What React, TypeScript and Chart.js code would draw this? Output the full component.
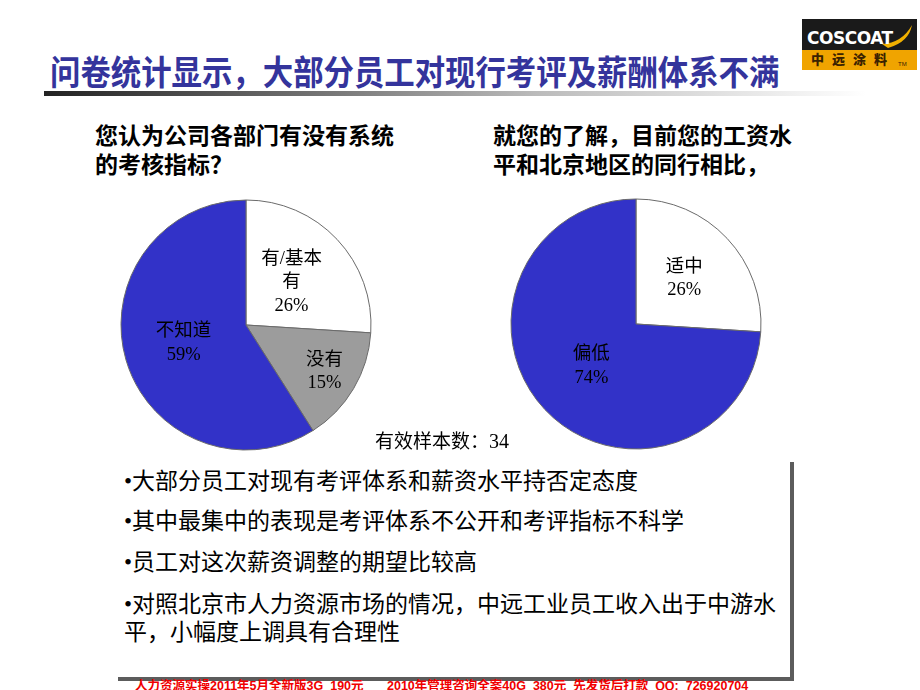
import React, { useEffect, useRef } from "react";
import { Chart, registerables } from "chart.js";

Chart.register(...registerables);

// ---- Data ----
const leftCategories = [["有/基本", "有"], ["没有"], ["不知道"]];
const leftValues = [26, 15, 59];
const rightCategories = [["适中"], ["偏低"]];
const rightValues = [26, 74];
const sampleSize = 34;

const leftQuestion = ["您认为公司各部门有没有系统", "的考核指标？"];
const rightQuestion = ["就您的了解，目前您的工资水", "平和北京地区的同行相比，"];
const titleText = "问卷统计显示，大部分员工对现行考评及薪酬体系不满";
const bulletLines = [
  "•大部分员工对现有考评体系和薪资水平持否定态度",
  "•其中最集中的表现是考评体系不公开和考评指标不科学",
  "•员工对这次薪资调整的期望比较高",
  "•对照北京市人力资源市场的情况，中远工业员工收入出于中游水",
  "平，小幅度上调具有合理性",
];
const footerParts = [
  "人力资源实操2011年5月全新版3G  190元",
  "2010年管理咨询全案40G  380元  先发货后打款  QQ:  726920704",
];

// ---- Styles ----
const BLUE = "#3232C8";
const GRAY = "#9C9C9C";
const WHITE = "#FFFFFF";
const leftColors = [WHITE, GRAY, BLUE];
const rightColors = [WHITE, BLUE];
const leftLabelRadii = [0.5, 0.73, 0.52];
const rightLabelRadii = [0.53, 0.49];
const SERIF = '"Liberation Serif", "Noto Sans CJK SC", serif';
const SANS = '"Noto Sans CJK SC", "Noto Sans", sans-serif';

const sliceLabelPlugin = {
  id: "sliceLabels",
  afterDatasetsDraw(chart: any, _args: any, opts: any) {
    const ctx = chart.ctx;
    const meta = chart.getDatasetMeta(0);
    const ds = chart.data.datasets[0];
    const labels = chart.data.labels;
    meta.data.forEach((arc: any, i: number) => {
      const p = arc.getProps(["x", "y", "startAngle", "endAngle", "outerRadius"], true);
      const mid = (p.startAngle + p.endAngle) / 2;
      const r = p.outerRadius * opts.radii[i];
      const cx = p.x + Math.cos(mid) * r;
      const cy = p.y + Math.sin(mid) * r;
      const lines = [...labels[i], ds.data[i] + "%"];
      ctx.save();
      ctx.font = opts.font;
      ctx.fillStyle = "#000";
      ctx.textAlign = "center";
      ctx.textBaseline = "middle";
      const lh = opts.lineHeight;
      const top = cy - ((lines.length - 1) * lh) / 2;
      lines.forEach((l: string, j: number) => ctx.fillText(l, cx, top + j * lh));
      ctx.restore();
    });
  },
};

function PieChart(props: {
  labels: string[][];
  values: number[];
  colors: string[];
  radii: number[];
  style: React.CSSProperties;
}) {
  const ref = useRef<HTMLCanvasElement | null>(null);
  useEffect(() => {
    if (!ref.current) return;
    const chart = new Chart(ref.current, {
      type: "pie",
      data: {
        labels: props.labels as any,
        datasets: [
          {
            data: props.values,
            backgroundColor: props.colors,
            borderColor: "#6a6a6a",
            borderWidth: 1,
          },
        ],
      },
      options: {
        responsive: false,
        animation: false,
        radius: 125,
        layout: { padding: 0 },
        plugins: {
          legend: { display: false },
          tooltip: { enabled: false },
          sliceLabels: {
            radii: props.radii,
            font: `18.5px ${SERIF}`,
            lineHeight: 23.5,
          },
        } as any,
      } as any,
      plugins: [sliceLabelPlugin],
    });
    return () => chart.destroy();
  }, []);
  return <canvas ref={ref} width={260} height={260} style={{ position: "absolute", ...props.style }} />;
}

function Logo() {
  return (
    <div style={{ position: "absolute", left: 802, top: 19, width: 115, height: 51, overflow: "hidden" }}>
      <div style={{ position: "absolute", left: 0, top: 0, width: 115, height: 31, background: "#1a1a1a" }} />
      <div style={{ position: "absolute", left: 0, top: 31, width: 115, height: 20, background: "#F0A400" }} />
      <svg width={115} height={51} style={{ position: "absolute", left: 0, top: 0 }}>
        <path d="M 80 25 Q 100 24 110 6 Q 107 23 86 29 Z" fill="#F0B000" />
      </svg>
      <div
        style={{
          position: "absolute",
          left: 5,
          top: 11,
          fontFamily: '"DejaVu Sans", sans-serif',
          fontWeight: 900,
          fontSize: 17,
          lineHeight: "17px",
          color: "#fff",
          letterSpacing: -0.5,
          whiteSpace: "nowrap",
        }}
      >
        COSCOAT
      </div>
      <div
        style={{
          position: "absolute",
          left: 9,
          top: 33,
          fontFamily: SANS,
          fontWeight: 900,
          fontSize: 13,
          lineHeight: "14px",
          color: "#3a2200",
          letterSpacing: 8,
          whiteSpace: "nowrap",
        }}
      >
        中远涂料
      </div>
      <div style={{ position: "absolute", left: 96, top: 42, fontSize: 6, lineHeight: "6px", fontFamily: "sans-serif", color: "#3a2200" }}>TM</div>
    </div>
  );
}

export default function App() {
  const abs = (l: number, t: number, extra: React.CSSProperties = {}): React.CSSProperties => ({
    position: "absolute",
    left: l,
    top: t,
    whiteSpace: "pre",
    margin: 0,
    ...extra,
  });
  return (
    <div style={{ position: "absolute", left: 0, top: 0, width: 920, height: 690, overflow: "hidden", background: "#fff" }}>
      <Logo />
      <div
        style={abs(50, 52, {
          fontFamily: SANS,
          fontWeight: 700,
          fontSize: 30.4,
          lineHeight: "32px",
          color: "#34349C",
          transform: "scaleY(1.13)",
          transformOrigin: "top left",
        })}
      >
        {titleText}
      </div>
      <div
        style={{
          position: "absolute",
          left: 44,
          top: 91,
          width: 822,
          height: 5,
          background: "linear-gradient(to right, #222 0%, #777 35%, #bbb 60%, #fff 100%)",
        }}
      />
      {leftQuestion.map((t, i) => (
        <div key={"lq" + i} style={abs(95, 120 + i * 29, { fontFamily: SANS, fontWeight: 700, fontSize: 23, lineHeight: "29px", color: "#000" })}>
          {t}
        </div>
      ))}
      {rightQuestion.map((t, i) => (
        <div key={"rq" + i} style={abs(493, 120 + i * 29, { fontFamily: SANS, fontWeight: 700, fontSize: 23, lineHeight: "29px", color: "#000" })}>
          {t}
        </div>
      ))}
      <PieChart labels={leftCategories} values={leftValues} colors={leftColors} radii={leftLabelRadii} style={{ left: 116, top: 195 }} />
      <PieChart labels={rightCategories} values={rightValues} colors={rightColors} radii={rightLabelRadii} style={{ left: 506, top: 194 }} />
      <div style={abs(375, 428, { fontFamily: SANS, fontSize: 19, lineHeight: "24px", color: "#000" })}>
        有效样本数：<span style={{ fontFamily: SERIF, fontSize: 20 }}>{sampleSize}</span>
      </div>
      <div
        style={{
          position: "absolute",
          left: 114,
          top: 458,
          width: 676,
          height: 219,
          background: "#fff",
          boxShadow: "4px 4px 0 #5c5c5c",
        }}
      />
      {bulletLines.map((t, i) => {
        const tops = [482, 522, 563, 605, 633];
        return (
          <div key={"b" + i} style={abs(124, tops[i] - 15, { fontFamily: SERIF, fontSize: 23, lineHeight: "30px", color: "#000" })}>
            {t}
          </div>
        );
      })}
      <div style={abs(135, 679, { fontFamily: '"Liberation Sans", "Noto Sans CJK SC", sans-serif', fontWeight: 700, fontSize: 12.5, lineHeight: "14px", color: "#F00000" })}>
        {footerParts[0]}
      </div>
      <div style={abs(387, 679, { fontFamily: '"Liberation Sans", "Noto Sans CJK SC", sans-serif', fontWeight: 700, fontSize: 12.5, lineHeight: "14px", color: "#F00000" })}>
        {footerParts[1]}
      </div>
    </div>
  );
}
